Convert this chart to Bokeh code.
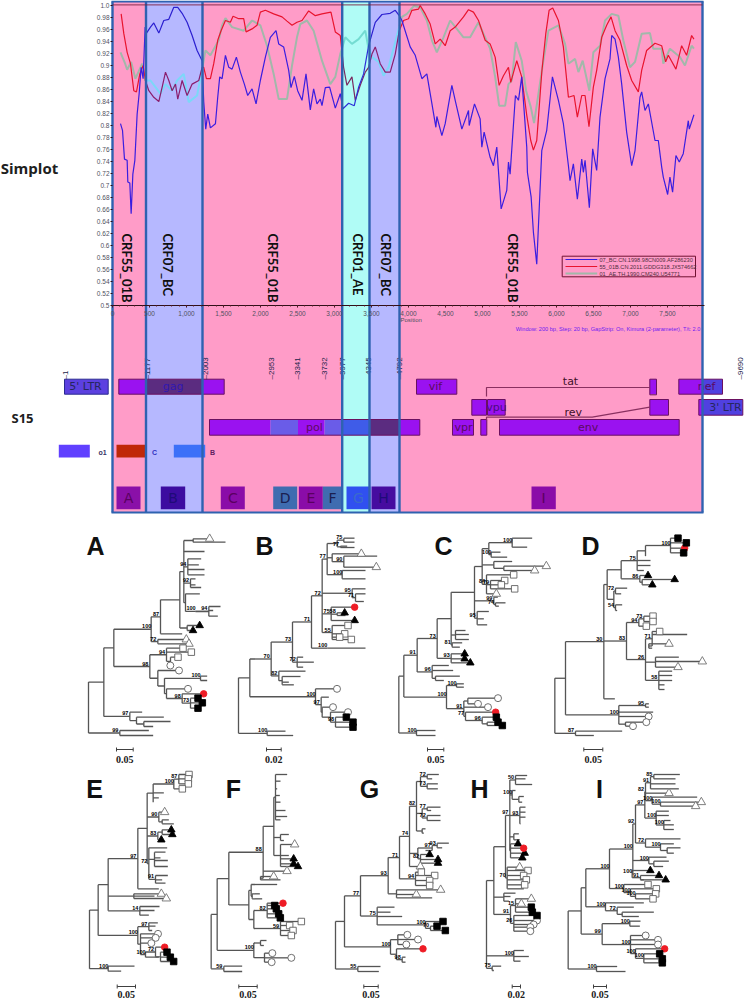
import numpy as np
from bokeh.plotting import figure
from bokeh.models import Range1d, LinearAxis, FixedTicker, NumeralTickFormatter
from bokeh.core.properties import value
from bokeh.embed import file_html
from bokeh.resources import INLINE

# ---------- SimPlot series: position (bp), similarity ----------
blue_bp = [108,135,162,198,207,234,252,275,302,333,360,387,414,441,459,513,558,626,693,761,828,882,941,1008,1076,1143,1211,1233,1260,1287,1323,1391,1422,1449,1481,1526,1571,1616,1674,1728,1782,1827,1886,1940,1998,2066,2133,2210,2246,2313,2381,2412,2457,2502,2561,2615,2673,2718,2763,2808,2831,2876,2934,3011,3078,3114,3191,3267,3326,3393,3461,3551,3641,3753,3821,3875,3911,4023,4091,4181,4248,4302,4370,4383,4451,4496,4586,4631,4721,4811,4820,4892,4968,4991,5022,5103,5148,5193,5252,5328,5351,5373,5445,5486,5530,5598,5607,5657,5688,5733,5801,5868,5945,6026,6093,6161,6183,6228,6282,6341,6363,6386,6444,6489,6543,6588,6656,6723,6746,6791,6836,6881,6948,7016,7061,7128,7151,7196,7241,7331,7376,7421,7443,7502,7533,7569,7614,7659,7713,7781,7794,7857]
blue_sim = [.803,.792,.744,.742,.706,.704,.653,.719,.742,.819,.853,.897,.878,.964,.954,.964,.971,.954,.975,.977,.997,.997,.987,.972,.95,.925,.908,.839,.794,.819,.796,.803,.847,.881,.878,.917,.897,.894,.914,.889,.869,.85,.861,.836,.875,.914,.947,.958,.936,.931,.892,.863,.882,.858,.842,.886,.826,.861,.836,.844,.833,.863,.864,.829,.853,.828,.837,.833,.864,.886,.933,.972,.985,.987,.992,.983,.975,.931,.917,.878,.886,.847,.797,.815,.783,.803,.867,.842,.794,.825,.80,.836,.811,.764,.789,.747,.733,.764,.661,.692,.739,.719,.85,.842,.881,.764,.722,.681,.622,.569,.758,.792,.881,.842,.803,.733,.708,.736,.677,.744,.722,.742,.663,.761,.725,.814,.878,.911,.95,.944,.914,.869,.789,.733,.758,.847,.856,.825,.836,.775,.775,.731,.714,.685,.714,.689,.75,.739,.753,.808,.794,.818]
red_bp = [117,153,198,243,288,324,369,414,445,491,558,626,671,716,761,806,851,882,941,1008,1076,1166,1211,1233,1269,1323,1368,1422,1467,1526,1593,1629,1706,1773,1805,1886,1953,1998,2066,2178,2291,2358,2426,2493,2561,2651,2741,2831,2952,3011,3078,3123,3168,3236,3281,3348,3416,3461,3506,3551,3618,3686,3753,3821,3875,3933,4000,4046,4136,4158,4226,4293,4361,4428,4496,4563,4631,4743,4811,4878,4946,5036,5103,5171,5225,5283,5351,5382,5463,5530,5598,5652,5688,5733,5801,5855,5900,5949,6026,6093,6161,6237,6282,6341,6386,6439,6498,6543,6611,6678,6737,6791,6858,6948,7016,7106,7151,7218,7331,7421,7475,7511,7614,7691,7758,7826,7857]
red_sim = [.986,.953,.922,.903,.858,.856,.886,.90,.875,.858,.847,.84,.864,.889,.875,.858,.869,.844,.875,.85,.869,.875,.897,.897,.878,.878,.903,.942,.958,.975,.972,.982,.978,.978,.956,.961,.967,.989,.992,.986,.981,.974,.967,.972,.975,.991,.983,.986,.989,.956,.95,.897,.867,.881,.842,.867,.889,.897,.919,.931,.903,.889,.889,.919,.958,.975,.978,.992,.994,1.0,.986,.969,.936,.944,.933,.958,.964,.981,.993,.989,.975,.942,.936,.914,.867,.883,.897,.872,.908,.881,.817,.775,.759,.775,.889,.953,.992,.996,.975,.931,.847,.85,.814,.85,.85,.798,.864,.892,.947,.967,.981,.958,.942,.90,.875,.856,.892,.925,.937,.933,.906,.917,.894,.933,.917,.95,.944]
grey_bp = [108,171,198,252,310,401,445,513,581,648,716,806,873,963,1030,1143,1211,1256,1323,1436,1481,1526,1616,1773,1886,1998,2088,2178,2246,2358,2426,2493,2538,2628,2718,2831,2943,3011,3078,3146,3236,3326,3416,3452,3506,3596,3663,3731,3821,3911,3978,4071,4158,4248,4316,4383,4473,4563,4653,4743,4833,4946,5013,5103,5171,5225,5306,5351,5396,5450,5530,5589,5652,5697,5756,5823,5891,6026,6116,6161,6251,6296,6354,6444,6498,6588,6656,6746,6836,6903,6993,7061,7151,7263,7308,7421,7443,7533,7668,7736,7826,7857]
grey_sim = [.922,.903,.893,.906,.878,.903,.875,.875,.864,.853,.869,.858,.875,.886,.839,.85,.894,.925,.917,.942,.967,.979,.964,.958,.975,.967,.933,.886,.844,.844,.90,.947,.969,.975,.958,.908,.869,.881,.919,.947,.936,.944,.958,.933,.914,.906,.883,.897,.939,.981,.986,.999,.997,.975,.942,.922,.947,.975,.961,.947,.947,.972,.953,.928,.881,.833,.833,.869,.875,.939,.908,.858,.831,.804,.853,.908,.958,.967,.936,.903,.911,.889,.908,.858,.922,.933,.975,.986,.983,.942,.897,.906,.953,.954,.928,.928,.903,.928,.914,.90,.933,.928]
series_names = ["07_BC.CN.1998.98CN009.AF286230", "55_01B.CN.2011.GDDG318.JX574662", "01_AE.TH.1990.CM240.U54771"]

y_ticks = [round(0.5 + 0.02 * i, 2) for i in range(26)]
y_tick_labels = ["0.5","0.52","0.54","0.56","0.58","0.6","0.62","0.64","0.66","0.68","0.7","0.72","0.74","0.76","0.78","0.8","0.82","0.84","0.86","0.88","0.9","0.92","0.94","0.96","0.98","1.0"]
x_ticks = [0,500,1000,1500,2000,2500,3000,3500,4000,4500,5000,5500,6000,6500,7000,7500]

# ---------- recombinant regions (page x edges), names ----------
band_edges = [112, 145.5, 202, 341.7, 369, 399, 702]
band_kinds = ["pink", "blue", "pink", "cyan", "blue", "pink"]
region_names = ["CRF55_01B","CRF07_BC","CRF55_01B","CRF01_AE","CRF07_BC","CRF55_01B"]
region_x = [126, 167, 272, 357, 385, 512]

# ---------- gene map ----------
brk_labels = ["1","1177","2003","2953","3341","3732","3977","4345","4792","9690"]
brk_x = [64.5,146.7,205,270.7,297,324,341.7,368,399,740]
gene_left  = [118.3,145.5,202,209,270,297.5,324,341,369,399,416,471.3,487,452,480.3,499,649.3,649.3,678.3,702,698.3,702]
gene_right = [145.5,202,223.7,270,297.5,324,341,369,399,419.3,456.3,486,504.7,473,486.3,678.7,656,668,702,722,702,742.3]
gene_row   = [0,0,0,2,2,2,2,2,2,2,0,1,1,2,2,2,0,1,0,0,1,1]
gene_fill  = ["#9A12F0","#5B2C80","#9A12F0","#9A12F0","#6A5CE8","#9A12F0","#6A5CE8","#3F5CE8","#5B2C80","#9A12F0","#9A12F0","#9A12F0","#9A12F0","#9A12F0","#9A12F0","#9A12F0","#9A12F0","#9A12F0","#9A12F0","#5040E0","#9A12F0","#5040E0"]
gene_text = ["5' LTR","gag","pol","vif","vpu","vpr","env","nef","3' LTR","tat","rev"]
gene_text_x = [85,172.7,314,435,496,463,587.7,706,725,570,572.7]
gene_text_y = [386,386,426.7,386,407,426.7,426.7,386,407,381,412]
gene_text_c = ["#26265E","#3018B0","#600A60","#5A0A60","#4A0A80","#5A0A60","#5A0A60","#5A0A60","#26265E","#401028","#401028"]
swatch_left = [58.3,116,173.3]
swatch_right = [89.3,145.7,204.7]
swatch_fill = ["#6040FF","#C02808","#3C70F8"]
swatch_text = ["o1","C","B"]
swatch_text_x = [102,154,212]
swatch_text_c = ["#333366","#3030C0","#602060"]
box_names = ["A","B","C","D","E","F","G","H","I"]
box_left = [116,160.3,220.3,272.7,298.3,322.3,346,371,531]
box_right = [140,184.7,244.3,296.7,322.3,341.7,370,395,555.3]
box_fill = ["#8A10A8","#3C0CA0","#8A0CA8","#3F6CB0","#8A0CA8","#3F6CB0","#3050F0","#460CA0","#8A0CA8"]
box_text = ["#5A0060","#200A78","#5A0060","#1A2050","#5A0060","#1A2050","#3A6ACC","#200A78","#5A0060"]

# ---------- phylogenetic trees ----------
def L(x, y, m=None):
    return ("L", x, y, m)
def N(x, b, *kids):
    return ("N", x, b, kids)

tree_A = N(24,None,
 N(70,None,
  N(100,None,
   N(212,'100',
    N(240,'87',
     N(298,None,
      N(310,None,
       N(338,None,L(380,40,'t'),L(435,50)),
       L(372,78),
       N(322,'94',L(362,100),L(355,118),L(372,132),L(372,148)),
       N(330,'92',L(345,160),L(345,178),L(362,186)),
       N(315,None,L(358,205),N(345,'100',N(385,'94',L(420,243),L(398,255),L(412,272)),L(385,258)))),
      N(320,None,L(350,300,'T'),L(330,315,'T'))),
     L(305,325)),
    N(232,'72',L(310,342,'t'),L(318,355,'t'))),
   N(208,'98',
    N(258,'94',L(300,368,'s'),L(325,380,'s'),N(270,None,L(285,395,'s'),L(262,420,'c'))),
    N(232,None,
     L(288,435,'c'),
     N(252,None,
      N(360,'100',L(380,452),L(380,465)),
      N(258,None,L(315,490,'c'),
       N(305,'98',L(362,505,'R'),N(330,'73',L(345,518,'S'),L(358,532,'S'),L(345,548,'S')))))))),
  N(148,'97',L(185,560),N(168,None,L(250,575),N(190,None,L(270,588),L(218,603))))),
 N(118,'99',L(205,615),L(218,630)))

tree_B = N(474,None,
 N(508,None,
  N(572,'70',
   N(636,'73',
    N(693,'71',
     N(725,'72',
      N(740,'77',
       N(770,None,N(790,'75',L(822,38),L(822,50)),N(780,'77',L(800,62),L(822,66))),
       N(755,None,L(835,85,'t'),N(790,'90',L(890,92),L(880,125,'t'))),
       N(785,'100',L(855,135),L(855,160))),
      N(815,'95',L(855,190),N(825,'71',L(855,205),L(850,228))),
      N(752,'75',L(815,245,'R'),N(770,'58',L(785,262,'T'),L(795,270)),L(815,285,'T')),
      N(755,'55',L(795,300,'s'),L(785,325,'s'),L(770,335,'s'),L(805,342,'s'))),
     N(740,'100',L(855,368))),
    N(650,'72',L(668,395),L(700,410),L(668,425))),
   N(595,'82',L(675,437),N(605,None,L(660,453),L(625,470),L(640,478)))),
  N(705,'100',L(762,490,'c'),N(722,'97',L(745,515),N(725,None,L(750,545,'c'),N(750,None,L(795,560,'c'),N(765,'98',L(790,575,'S'),L(810,590,'S'),L(810,605,'S'))))))),
 N(560,'100',L(615,617),L(638,630)))

tree_C = N(55,None,
 N(70,None,
  N(110,'91',
   N(170,'73',
    N(212,None,
     N(282,None,
      N(305,None,
       N(325,None,N(395,'100',L(455,38),L(440,65)),N(332,'100',L(360,80),L(380,95))),
       N(340,None,L(395,108),N(370,None,L(490,122,'t'),L(455,135,'t'))),
       N(318,'84',L(392,148,'s'),N(330,'79',L(365,165,'s'),L(355,178,'s'),L(395,190,'s')),L(340,205,'t'))),
      N(340,'99',L(352,215),N(345,'74',L(375,232),L(355,242))),
      N(290,'95',L(325,258),L(310,280),L(320,298))),
     N(225,None,L(255,315),L(265,327),L(265,342)),
     N(215,'81',L(245,352),L(238,365))),
    N(212,'93',L(245,385,'T'),L(245,400,'T'),L(262,412,'T'))),
   N(155,'96',L(205,420),L(218,435),N(165,None,L(238,452),L(190,465)))),
  N(198,'100',
   N(228,'100',L(250,475),L(250,485)),
   N(250,'91',N(262,None,L(345,518,'c'),L(285,535,'c')),L(315,545,'c'),
    N(255,'77',L(338,560,'R'),N(305,'96',L(340,575,'S'),N(320,None,L(345,590,'S'),L(358,600,'S'))))))),
 N(108,'100',L(165,615),L(165,630)))

tree_D = N(523,None,
 N(555,None,
  N(670,'30',
   N(680,None,
    N(722,None,
     N(770,'75',
      N(795,None,N(870,'100',L(885,38,'S'),L(910,52,'S'),L(905,68,'R'),L(902,82,'S')),L(795,92)),
      L(810,105),L(810,120),L(790,135)),
     N(778,'86',L(795,150,'T'),N(785,None,L(875,162,'T'),L(808,178,'T')))),
    N(700,None,N(705,'72',L(740,188),L(722,205)),N(705,'54',L(725,238),L(710,255)))),
   N(738,'83',
    N(775,'94',N(790,'73',L(810,272,'s'),L(810,288,'s')),L(790,302,'s')),
    N(795,'26',
     N(815,'71',L(830,318,'s'),L(920,327),N(805,None,L(858,355,'t'),L(815,368))),
     N(825,None,L(895,395),L(958,408,'t'),L(885,425,'t')),
     N(835,'58',L(875,437),L(875,450),L(875,465),L(852,478),L(852,492)))),
   L(703,520)),
  N(715,'100',N(795,'95',L(805,535),L(805,545)),L(818,560),L(797,573,'c'),N(735,None,L(790,590,'c'),L(750,602,'c')))),
 N(585,'87',L(725,617),L(640,630)))

tree_E = N(27,None,
 N(53,None,
  N(83,None,
   N(172,'97',
    N(200,None,
     N(218,None,N(280,'100',N(295,'87',L(318,42,'s'),L(316,55,'s'),L(316,70,'s')),L(298,85,'s')),L(250,97),L(235,112),L(218,125)),
     N(235,'90',L(245,155,'t'),N(245,None,L(265,178),L(280,190))),
     N(232,'83',N(245,None,L(265,208,'T'),L(268,222,'T')),L(235,238,'T')),
     N(205,'72',L(260,262),N(222,None,L(255,275),L(240,292),L(262,300),L(262,318)),N(225,'91',L(262,345),L(245,358),L(255,368)))),
    L(235,385)),
   N(160,None,L(235,400,'t'),L(222,407),L(250,414,'t')),
   N(178,'14',L(237,438),L(222,450),L(205,464))),
  N(172,'100',N(205,'97',L(232,487),L(225,497),L(215,510)),
   N(180,None,L(225,520,'c'),L(218,532,'c'),L(205,548,'c'),
    N(195,'100',N(225,'72',L(245,560,'R'),N(240,None,L(252,575,'S'),L(262,590,'S'),L(272,603,'S'))),L(235,590))))),
 N(83,'100',L(162,617),L(122,632)))

tree_F = N(392,None,
 N(410,None,
  N(445,None,
   N(548,'88',
    N(580,None,
     N(585,None,L(620,42),L(600,62),L(590,85),L(598,105),L(600,125),L(615,150),L(620,168),L(600,178)),
     N(600,None,L(625,222),L(610,240)),
     N(600,None,L(635,252,'t'),L(625,285),L(632,295,'T'),L(632,310,'T'),L(645,318,'T'))),
    L(612,332,'t'),
    N(540,None,L(572,348,'t'),L(600,358))),
   N(505,None,
    N(512,None,L(590,372),N(515,None,L(538,400),L(545,415))),
    N(520,None,
     N(560,'82',L(600,428,'R'),L(575,435,'S'),L(580,445,'S'),L(587,460,'S'),L(592,472,'S')),
     N(600,'59',L(655,483,'s'),L(620,495,'s'),L(630,510,'s'),L(625,525,'s'))))),
  N(520,'100',N(540,None,L(558,540),L(550,555)),N(552,None,L(568,578,'c'),L(625,592,'c'),L(566,605,'c')))),
 N(430,'59',L(485,617),L(485,633)))

tree_G = N(75,None,
 N(102,None,
  N(150,'77',
   N(233,'93',
    N(267,'71',
     N(297,'74',
      N(318,'82',
       N(330,None,N(350,'72',L(385,42),L(365,55)),N(350,'73',L(382,70),L(382,85))),
       N(335,None,N(350,'77',L(390,140),L(362,150)),N(350,'72',L(390,165),L(390,180))),
       N(335,None,L(345,205),L(340,218))),
      N(322,None,N(365,'97',N(380,'93',L(415,248),L(395,262)),L(345,270)),N(330,'82',L(350,282,'T'),L(375,297,'T'),L(375,308,'T'))),
      L(322,318,'t')),
     N(315,'94',L(325,335,'s'),L(365,345,'s'),L(350,360,'s'),L(350,375,'s'))),
    N(258,None,L(383,388,'t'),L(310,402,'t'),L(365,412))),
   N(200,'75',L(252,440),L(240,455),L(275,468),N(345,'100',L(390,483,'S'),N(360,'70',L(372,497,'S'),L(397,510,'S'))))),
  N(240,'100',N(262,None,L(283,523,'c'),L(315,537,'c'),L(280,552,'c')),N(258,None,L(330,565,'R'),N(275,'98',L(285,590),L(285,605))))),
 N(142,'55',L(210,618),L(205,633)))

tree_H = N(78,None,
 N(100,None,
  N(135,None,
   N(148,'97',
    N(165,'50',L(200,15),L(195,25),L(215,42)),
    N(155,'100',L(165,60),N(175,None,L(190,78),L(185,95))),
    N(178,'93',L(195,110),L(195,125),L(195,140),L(180,160)),
    N(160,None,L(175,190),L(178,208)),
    N(150,None,L(165,220,'T'),L(182,233,'R'),L(185,248,'T'),L(178,262,'T'))),
   N(140,'70',L(170,290,'t'),L(195,300,'s'),L(182,315,'s'),L(190,328,'s'),L(185,343,'s'),L(190,355))),
  N(130,None,L(165,368),L(150,378),L(145,392)),
  N(150,'91',N(165,'15',L(175,400,'t'),L(205,385,'t'),L(205,410,'S'),L(208,425,'S')),
   N(160,'26',L(222,435,'S'),L(222,450,'c'),L(212,462,'c'),L(202,470,'c'),L(202,482,'c')))),
 N(160,'100',L(190,540),L(205,558),L(180,572)),
 N(95,'75',L(122,587),L(100,600)))

tree_I = N(173,None,
 N(212,None,
  N(226,None,
   N(297,'100',
    N(367,'100',
     N(375,'92',
      N(403,'97',
       N(405,'82',N(420,'91',N(430,'85',L(508,42),L(495,55)),L(495,70),L(505,85)),L(468,98,'t'),N(425,'100',L(560,110),N(450,'100',L(565,125,'t'),L(548,137,'t')))),
       N(437,'100',L(475,152),L(475,165),N(460,'100',L(480,180),L(490,193),L(490,207)))),
      N(405,'72',L(510,235),N(450,'100',L(490,250),N(470,None,L(510,262),L(490,278))))),
     N(415,'100',L(468,290),N(430,None,L(475,302),L(458,318))),
     N(365,'100',L(412,330,'T'),N(390,'91',L(438,345,'T'),L(458,358,'T'),L(400,358)))),
    N(340,'100',L(405,372,'s'),N(360,'100',L(430,385,'s'),N(375,'100',L(428,400,'s'),L(420,415,'s'))))),
   N(285,'100',L(400,427),N(320,'72',L(370,440),N(335,None,L(430,455),L(385,468))))),
  N(275,'99',N(358,'100',L(390,482),L(388,497)),
   N(360,'100',L(398,525,'c'),L(435,538,'c'),L(435,552,'c'),
    N(375,'100',L(455,565,'R'),N(400,'100',L(440,580,'S'),L(448,595,'S'),L(448,607,'S')))))),
 N(258,'100',L(320,618),L(345,633)))

trees = [tree_A,tree_B,tree_C,tree_D,tree_E,tree_F,tree_G,tree_H,tree_I]
tree_origin_x = [80,80,380,380,80,80,310,460,510]
tree_origin_y = [525,525,525,525,760,760,760,770,760]
tree_letters = ["A","B","C","D","E","F","G","H","I"]
letter_x = [95,264,443,590,94,233,369,479,599]
letter_y = [545,545,545,545,788,788,788,788,788]
bar_left = [116,266,427,583.3,116.7,238.3,363.3,511.7,593]
bar_right = [132.7,280.7,443.3,602.3,135,256.7,377.7,520,606]
bar_y = [749,749,749,749,986,986,986,986,986]
bar_label = ["0.05","0.02","0.05","0.05","0.05","0.05","0.05","0.02","0.05"]

# ---------- figure: whole page, with page-pixel helper ranges ----------
PX = 0.074   # page px per bp
PY = 600.0   # page px per similarity unit
p = figure(width=750, height=1001, output_backend="svg", toolbar_location=None,
           x_range=Range1d(-112 / PX, (750 - 112) / PX),
           y_range=Range1d(1 - (1001 - 5) / PY, 1 + 5 / PY),
           min_border=0, min_border_left=0, min_border_right=0, min_border_top=0, min_border_bottom=0,
           background_fill_color="white", border_fill_color="white", outline_line_color=None)
p.styles = {"position": "absolute", "left": "0px", "top": "0px"}
p.extra_x_ranges["px"] = Range1d(0, 750)
p.extra_y_ranges["py"] = Range1d(1001, 0)
p.grid.visible = False
PG = dict(x_range_name="px", y_range_name="py")

band_col = {"pink": "#FF9CC8", "blue": "#B6B8FF", "cyan": "#B0FCF6"}
p.quad(left=band_edges[:-1], right=band_edges[1:], top=1, bottom=512,
       fill_color=[band_col[k] for k in band_kinds], line_color=None, **PG)

def T(x, y, s, size, color="#000000", style="normal", font="Liberation Sans", angle=0.0, align="center", base="middle", **kw):
    p.text(x=[x], y=[y], text=[s], text_font=value(font), text_font_size=value(f"{size}px"),
           text_color=color, text_font_style=style, angle=angle, text_align=align, text_baseline=base, **kw, **PG)

# gene map
row_top = [378.7, 399, 419]
row_bot = [393.7, 414.7, 434.7]
p.quad(left=gene_left, right=gene_right, top=[row_top[r] for r in gene_row], bottom=[row_bot[r] for r in gene_row],
       fill_color=gene_fill, line_color=None, **PG)
p.quad(left=[64], right=[107.7], top=[378.7], bottom=[393.7], fill_color="#5C40E0", line_color="#2A2A90", line_width=1, **PG)
p.quad(left=[118.3,209,416,471.3,487,452,480.3,499,649.3,649.3,678.3,698.3],
       right=[223.7,419.3,456.3,486,504.7,473,486.3,678.7,656,668,722,742.3],
       top=[378.7,419,378.7,399,399,419,419,419,378.7,399,378.7,399],
       bottom=[393.7,434.7,393.7,414.7,414.7,434.7,434.7,434.7,394.3,414.7,393.7,414.7],
       fill_color=None, line_color="#6A1060", line_width=1, **PG)
p.line([486,486,649.3], [396,387,387], line_color="#8A3060", line_width=1.2, **PG)
p.line([486,486,591.7,649.3], [420,416.7,416.7,406.7], line_color="#8A3060", line_width=1.2, **PG)
for s, x, y, c in zip(gene_text, gene_text_x, gene_text_y, gene_text_c):
    T(x, y, s, 11, c, font="DejaVu Sans")
for s, x in zip(brk_labels, brk_x):
    T(x, 379, "–" + s, 8, "#22224A", angle=np.pi / 2, align="left")
p.quad(left=swatch_left, right=swatch_right, top=444.3, bottom=457, fill_color=swatch_fill, line_color=None, **PG)
for s, x, c in zip(swatch_text, swatch_text_x, swatch_text_c):
    T(x, 451.5, s, 7, c, "bold")
p.quad(left=box_left, right=box_right, top=486, bottom=508.7, fill_color=box_fill, line_color=None, **PG)
for s, l, r, c in zip(box_names, box_left, box_right, box_text):
    T((l + r) / 2, 497.5, s, 14, c, font="DejaVu Sans")

# similarity curves, coloured per region
b0 = (np.array(band_edges) - 112) / PX
def draw(xs, ys, cols, width):
    xs, ys = np.array(xs, float), np.array(ys, float)
    for i, k in enumerate(band_kinds):
        lo, hi = b0[i], b0[i + 1]
        m = (xs > lo) & (xs < hi)
        xx = np.r_[max(lo, xs[0]), xs[m], min(hi, xs[-1])]
        yy = np.r_[np.interp(max(lo, xs[0]), xs, ys), ys[m], np.interp(min(hi, xs[-1]), xs, ys)]
        p.line(xx, yy, line_color=cols[k], line_width=width)

draw(grey_bp, grey_sim, {"pink": "#A2B8AA", "blue": "#7CD8F8", "cyan": "#74DCD2"}, 2.0)
draw(red_bp, red_sim, {"pink": "#E8142E", "blue": "#8A1E6E", "cyan": "#7A2A60"}, 1.2)
draw(blue_bp, blue_sim, {"pink": "#3A1EE0", "blue": "#2C20D0", "cyan": "#2C30D8"}, 1.2)

# frame
p.segment(x0=band_edges, y0=1, x1=band_edges, y1=512, line_color="#2F62B0", line_width=2.4, **PG)
p.segment(x0=[111, 111], y0=[1, 512], x1=[703, 703], y1=[1, 512], line_color="#2F62B0", line_width=2, **PG)
p.line([112, 702], [4.4, 4.4], line_color="#7A2040", line_width=0.9, **PG)

# axes placed on the panel
p.xaxis.visible = False
p.yaxis.visible = False
xa = LinearAxis(fixed_location=0.5, ticker=FixedTicker(ticks=x_ticks, minor_ticks=list(range(0, 8000, 100))),
                formatter=NumeralTickFormatter(format="0,0"), bounds=(0, 8000))
ya = LinearAxis(fixed_location=0, ticker=FixedTicker(ticks=y_ticks),
                major_label_overrides=dict(zip(y_ticks, y_tick_labels)), bounds=(0.5, 1.0))
for a in (xa, ya):
    a.axis_line_color = "#301018"
    a.axis_line_width = 1.2
    a.major_tick_line_color = "#301018"
    a.major_tick_out = 2
    a.major_tick_in = 0
    a.minor_tick_line_color = "#702030"
    a.minor_tick_out = 1
    a.minor_tick_in = 0
    a.major_label_text_font = "Liberation Sans"
    a.major_label_text_font_size = "6.5px"
    a.major_label_text_color = "#505060"
    a.major_label_standoff = 3
ya.axis_line_color = None
ya.major_label_standoff = 1
p.add_layout(xa, "below")
p.add_layout(ya, "left")

T(400, 319, "Position", 6, "#505060", align="left")
T(700, 328, "Window: 200 bp, Step: 20 bp, GapStrip: On, Kimura (2-parameter), T/t: 2.0", 5.6, "#7020F0", align="right")

# region names
for s, x in zip(region_names, region_x):
    T(x, 233, s, 13, "#101010", "bold", font="Lato", angle=-np.pi / 2, align="left")

# legend
p.quad(left=[561.7], right=[695], top=[255.7], bottom=[276.3], fill_color=None, line_color="#701030", line_width=1, **PG)
for yy, c, w, s in zip([259, 266, 273], ["#3A1EE0", "#E8142E", "#A2B8AA"], [1.2, 1.2, 2], series_names):
    p.line([565, 596.7], [yy, yy], line_color=c, line_width=w, **PG)
    T(599, yy, s, 5.6, "#503040", align="left")

T(29, 167, "Simplot", 15, "#202020", "bold", font="Open Sans")
T(22, 417, "S15", 13, "#202020", "bold", font="Open Sans")

# trees
sx0, sy0, sx1, sy1, mk, bl = [], [], [], [], {}, []
def layout(n, ox, oy, parent_x=None):
    if n[0] == "L":
        _, x, y, m = n
        X, Y = ox + x / 3, oy + y / 3
        if parent_x is not None:
            sx0.append(parent_x); sy0.append(Y); sx1.append(X); sy1.append(Y)
        if m:
            mk.setdefault(m, ([], []))
            mk[m][0].append(X + 2.5); mk[m][1].append(Y)
        return Y
    _, x, b, kids = n
    X = ox + x / 3
    ys = [layout(k, ox, oy, X) for k in kids]
    Y = (min(ys) + max(ys)) / 2
    sx0.append(X); sy0.append(min(ys)); sx1.append(X); sy1.append(max(ys))
    if parent_x is not None:
        sx0.append(parent_x); sy0.append(Y); sx1.append(X); sy1.append(Y)
    if b:
        bl.append((X - 4.5, Y - 3, b))
    return Y

for t, ox, oy in zip(trees, tree_origin_x, tree_origin_y):
    layout(t, ox, oy)
p.segment(x0=sx0, y0=sy0, x1=sx1, y1=sy1, line_color="#555555", line_width=1.3, **PG)
p.text(x=[b[0] for b in bl], y=[b[1] for b in bl], text=[b[2] for b in bl], text_font=value("Liberation Sans"),
       text_font_size=value("5.5px"), text_font_style="bold", text_color="#000000",
       text_align="center", text_baseline="middle", **PG)
styles = {"t": ("triangle", "white", "#707070", 8.5), "T": ("triangle", "black", "black", 7.5),
          "s": ("square", "white", "#606060", 6.5), "S": ("square", "black", "black", 6.5),
          "c": ("circle", "white", "#606060", 7), "R": ("circle", "#EE1C25", "#EE1C25", 6.5)}
for m, (xs, ys) in mk.items():
    mark, fc, lc, size = styles[m]
    p.scatter(x=xs, y=ys, marker=mark, fill_color=fc, line_color=lc, size=size, line_width=0.9, **PG)

for s, x, y in zip(tree_letters, letter_x, letter_y):
    T(x, y, s, 25, "#101010", "bold")
for l, r, y, s in zip(bar_left, bar_right, bar_y, bar_label):
    p.segment(x0=[l, l, r], y0=[y, y - 2, y - 2], x1=[r, l, r], y1=[y, y + 2, y + 2], line_color="#404040", line_width=1, **PG)
    T((l + r) / 2, y + 10 if y < 800 else y + 7.5, s, 10, "#202020", "bold", font="Liberation Serif")

open("out.html", "w").write(file_html(p, INLINE))
